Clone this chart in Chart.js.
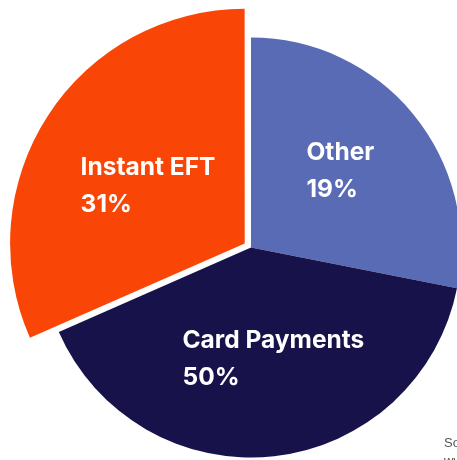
<!DOCTYPE html>
<html>
<head>
<meta charset="utf-8">
<script src="https://cdn.jsdelivr.net/npm/chart.js@4.4.1/dist/chart.umd.min.js"></script>
<style>
body { margin: 0; background: #fff; overflow: hidden; }
#wrap { position: relative; width: 457px; height: 460px; overflow: hidden; }
#source_note { position: absolute; left: 444px; top: 434px; font: 13px "Liberation Sans", Arial, sans-serif; color: #555; line-height: 18px; white-space: nowrap; }
</style>
</head>
<body>
<div id="wrap">
  <canvas id="payments_chart"></canvas>
  <div id="source_note">Source:<br>www</div>
</div>
<script>
// slice order runs clockwise from 12 o'clock
const payment_types = ['Other', 'Card Payments', 'Instant EFT']
const slice_shares  = [28.1, 40.3, 31.6]   // slice sizes as drawn in the picture
const share_labels  = ['19%', '50%', '31%'] // percentages printed on the slices
const slice_colours = ['#5a6bb5', '#18124a', '#f94606']

const popped_slice = 2   // Instant EFT sticks out

// small hand tweaks so the labels sit where the original has them
const label_nudge = [[-1.5, -2.5], [9.5, -6.5], [-4.5, 2]]

// make the popped slice a bit bigger than the rest
const pop_slice_plugin = {
  id: 'pop_slice',
  beforeDatasetsDraw(chart) {
    const meta = chart.getDatasetMeta(0)
    meta.data[popped_slice].outerRadius = meta.controller.outerRadius + 24
  }
}

// two line white labels inside each slice
const slice_labels_plugin = {
  id: 'slice_labels',
  afterDatasetsDraw(chart) {
    const ctx = chart.ctx
    const meta = chart.getDatasetMeta(0)
    const base_r = meta.controller.outerRadius
    ctx.save()
    ctx.font = 'bold 24.5px Inter'
    ctx.fillStyle = '#ffffff'
    ctx.textBaseline = 'alphabetic'
    ctx.textAlign = 'left'
    meta.data.forEach((arc, i) => {
      const mid = (arc.startAngle + arc.endAngle) / 2
      const cx = arc.x + Math.cos(mid) * base_r * 0.56 + label_nudge[i][0]
      const cy = arc.y + Math.sin(mid) * base_r * 0.56 + label_nudge[i][1]
      const lines = [payment_types[i], share_labels[i]]
      const w = Math.max(...lines.map(t => ctx.measureText(t).width))
      const left = cx - w / 2
      const first_base = cy - 10
      ctx.fillText(lines[0], left, first_base)
      ctx.fillText(lines[1], left, first_base + 37)
    })
    ctx.restore()
  }
}

const ctx = document.getElementById('payments_chart').getContext('2d')

const chart = new Chart(ctx, {
  type: 'pie',
  data: {
    labels: payment_types,
    datasets: [{
      data: slice_shares,
      backgroundColor: slice_colours,
      borderWidth: 0,
      offset: slice_colours.map((c, i) => i === popped_slice ? 30 : 0)
    }]
  },
  options: {
    responsive: true,
    maintainAspectRatio: false,
    animation: false,
    events: [],
    radius: 210,
    layout: {
      padding: { left: 45, top: 35, right: 0, bottom: 0 }
    },
    plugins: {
      legend: { display: false },
      tooltip: { enabled: false }
    }
  },
  plugins: [pop_slice_plugin, slice_labels_plugin]
})
</script>
</body>
</html>
